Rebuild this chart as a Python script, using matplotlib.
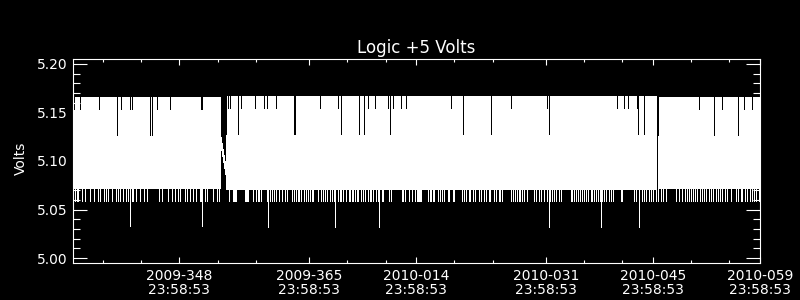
import numpy as np
import matplotlib.pyplot as plt
from matplotlib.ticker import FixedLocator, MultipleLocator

# time in days since 2009-001 00:00:00, one sample every ~3.1 h
t_first = 334.07
t_last = 423.9992
n_samples = 687

# quantized voltage levels (V)
v_top = 5.166
v_top_short = 5.153
v_top_long = 5.126
v_base = 5.071
v_low = 5.058
v_spike = 5.032

# samples whose maximum stays below the usual top level
top_short_idx = [1, 7, 26, 48, 57, 59, 84, 97, 128, 129, 155, 157, 168,
                 182, 191, 194, 203, 247, 265, 295, 302, 315, 320, 328, 333,
                 378, 438, 474,
                 544, 551, 555, 564, 626, 649, 671, 679]
top_long_idx = [44, 77, 79, 153, 165, 221, 222, 268, 286, 291, 317,
                390, 418, 476, 565, 571, 585, 641, 665]

# samples whose minimum reaches one step lower
low_idx = [0, 2, 4, 5, 9, 12, 17, 21, 25, 27, 31, 33, 35, 39, 43, 45, 47, 50,
           53, 55, 59, 60, 63, 67, 71, 74, 86, 89, 95, 99, 102, 105, 107, 112,
           114, 117, 120, 123, 127, 128, 132, 134, 140, 144, 146, 156, 160,
           161, 162, 163,
           172, 173, 174, 175, 180, 183, 185, 186, 188, 194, 197, 199, 201,
           203, 206, 209, 212, 214, 219, 221, 223, 225, 226, 228, 231, 233,
           235, 237, 239, 240, 245, 248, 250, 252, 254, 257, 259, 261, 265,
           267, 268, 270, 273, 276, 277, 279, 280, 282, 284, 285, 288, 290,
           292, 295, 297, 298, 300, 303, 305, 309, 310, 316, 318, 329, 330,
           332, 336, 339, 342,
           344, 345, 346, 347, 348, 355, 357, 358, 360, 361, 365, 367, 369,
           371, 375, 376, 380, 381, 389, 391, 393, 396, 397, 400, 402, 406,
           408, 411, 413, 416, 417, 421, 423, 426, 427, 429, 438, 440, 442,
           444, 446, 447, 449, 451, 454, 461, 463, 466, 468, 471, 474, 477,
           479, 481, 483, 486, 488, 498, 499, 501, 503, 505, 507, 509, 511,
           513, 515,
           518, 519, 521, 523, 525, 527, 529, 531, 533, 536, 538, 540, 548,
           549, 561, 563, 566, 569, 571, 573, 576, 578, 580, 583, 585, 588,
           590, 593, 603, 606, 609, 612, 614, 616, 618, 620, 622, 624, 627,
           629, 631, 633, 636, 638, 640, 643, 645, 647, 649, 652, 654, 658,
           663, 665, 668, 669, 672, 674, 677, 679, 681, 683, 686]
spike_idx = [57, 129, 195, 262, 306, 476, 528, 566]

# missing samples, and the line drawn across the first gap
gap_idx = [148, 149, 150, 151, 152, 584]
bridge_idx = [147, 153]
bridge_v = [5.124, 5.086]

tick_days = ['2009-348', '2009-365', '2010-014', '2010-031', '2010-045', '2010-059']
tick_time = '23:58:53'

# build the per-sample envelope
hi = np.full(n_samples, v_top)
hi[top_short_idx] = v_top_short
hi[top_long_idx] = v_top_long
lo = np.full(n_samples, v_base)
lo[low_idx] = v_low
lo[spike_idx] = v_spike
valid = np.ones(n_samples, bool)
valid[gap_idx] = False
edges = np.linspace(t_first, t_last, n_samples + 1)

fig = plt.figure(figsize=(8, 3), dpi=100, facecolor='black')
ax = fig.add_axes([73 / 800, 37 / 300, 687 / 800, 204 / 300])
ax.set_facecolor('black')

# each run of contiguous samples drawn as a filled min/max step band
i = 0
while i < n_samples:
    if not valid[i]:
        i += 1
        continue
    j = i
    while j + 1 < n_samples and valid[j + 1]:
        j += 1
    ax.stairs(hi[i:j + 1], edges[i:j + 2], baseline=lo[i:j + 1], fill=True,
              color='white', linewidth=0, antialiased=False)
    i = j + 1

bx = (edges[bridge_idx] + edges[np.array(bridge_idx) + 1]) / 2
ax.plot(bx, bridge_v, color='white', linewidth=0.8, antialiased=False)

# axes
sec = (23 * 3600 + 58 * 60 + 53) / 86400
majors = []
for s in tick_days:
    y, d = s.split('-')
    majors.append((int(y) - 2009) * 365 + int(d) - 1 + sec)
minors = [majors[0] - 10, majors[0] - 5]
for k, m in enumerate(majors):
    nxt = majors[k + 1] if k + 1 < len(majors) else m
    minors += [m + s for s in (5, 10, 15) if m + s < nxt - 2]

ax.set_xlim(t_first, max(t_last, majors[-1]) + 1e-4)
ax.set_ylim(4.995, 5.205)
ax.xaxis.set_major_locator(FixedLocator(majors))
ax.xaxis.set_minor_locator(FixedLocator(minors))
ax.set_xticklabels([s + '\n' + tick_time for s in tick_days], linespacing=1.0)
ax.yaxis.set_major_locator(MultipleLocator(0.05))
ax.yaxis.set_minor_locator(MultipleLocator(0.01))
ax.yaxis.set_major_formatter('{x:.2f}')

for sp in ax.spines.values():
    sp.set_color('white')
    sp.set_linewidth(0.8)
ax.tick_params(axis='both', which='both', direction='in', colors='white',
               width=0.8, labelsize=10, top=True, right=True)
ax.tick_params(axis='y', which='major', length=10, pad=4)
ax.tick_params(axis='y', which='minor', length=5)
ax.tick_params(axis='x', which='major', length=4.3, pad=4)
ax.tick_params(axis='x', which='minor', length=2.2)

ax.set_title('Logic +5 Volts', color='white', fontsize=12, pad=4)
ax.set_ylabel('Volts', color='white', fontsize=10)
ax.yaxis.set_label_coords(-0.066, 0.515)

fig.savefig('out.png', dpi=100, facecolor='black')
